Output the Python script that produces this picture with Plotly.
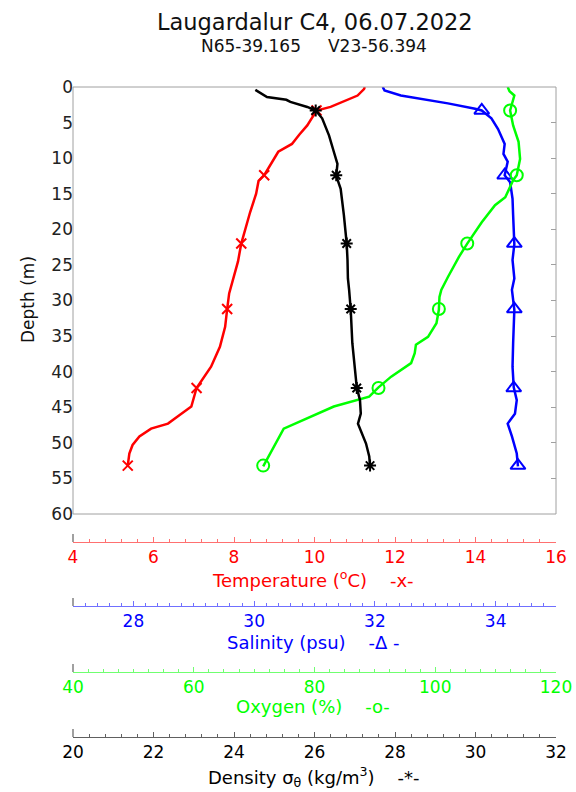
import plotly.graph_objects as go

# ---------------- data ----------------
marker_depth = [3.3, 12.4, 22.0, 31.2, 42.3, 53.2]

temp_depth = [0.0, 0.3, 1.2, 2.0, 2.8, 3.3, 5.4, 6.7, 8.0, 9.1, 10.3, 11.3, 12.4, 13.2,
              15.0, 17.6, 20.0, 22.0, 24.5, 27.1, 29.0, 31.2, 33.7, 36.5, 39.3, 42.3,
              44.9, 46.1, 47.3, 48.0, 49.1, 50.3, 51.5, 53.2]
temp_vals = [11.25, 11.23, 11.07, 10.75, 10.40, 10.05, 9.82, 9.62, 9.44, 9.10, 8.98, 8.88,
             8.75, 8.61, 8.55, 8.40, 8.28, 8.18, 8.10, 7.98, 7.88, 7.83, 7.78, 7.65, 7.43,
             7.07, 6.94, 6.65, 6.36, 5.94, 5.65, 5.48, 5.40, 5.36]
temp_markers = [10.05, 8.75, 8.18, 7.83, 7.07, 5.36]

sal_depth = [0.0, 0.5, 1.2, 2.3, 3.05, 3.3, 4.4, 5.9, 8.0, 9.4, 10.5, 11.7, 12.4, 13.4,
             15.7, 18.0, 22.1, 24.3, 26.9, 28.5, 31.3, 36.0, 39.3, 42.2, 44.0, 45.9,
             47.3, 49.1, 51.5, 53.3]
sal_vals = [32.13, 32.16, 32.43, 33.21, 33.66, 33.77, 33.93, 34.04, 34.15, 34.13, 34.20,
            34.17, 34.15, 34.24, 34.28, 34.29, 34.31, 34.28, 34.31, 34.27, 34.31, 34.29,
            34.28, 34.30, 34.35, 34.32, 34.20, 34.27, 34.35, 34.37]
sal_markers = [33.77, 34.15, 34.31, 34.31, 34.30, 34.37]

oxy_depth = [0.0, 0.6, 1.2, 3.3, 5.4, 7.7, 10.1, 12.4, 13.1, 15.5, 16.6, 19.0, 22.0,
             23.9, 26.7, 28.5, 29.5, 31.3, 33.2, 35.1, 36.2, 37.4, 38.8, 40.7, 42.2,
             43.5, 44.9, 47.0, 48.0, 53.3]
oxy_vals = [112.0, 112.3, 113.1, 112.4, 112.9, 113.8, 114.05, 113.5, 112.9, 111.6, 109.9,
            107.7, 105.3, 103.9, 102.1, 101.0, 100.7, 100.6, 100.2, 98.8, 96.8, 96.6, 96.0,
            92.7, 90.6, 89.05, 83.2, 77.7, 74.9, 71.5]
oxy_markers = [112.4, 113.5, 105.3, 100.6, 90.6, 71.5]

dens_depth = [0.4, 1.1, 1.4, 1.8, 2.1, 2.8, 3.3, 4.4, 6.8, 9.1, 10.8, 12.5, 14.3, 18.0,
              22.0, 24.3, 26.9, 28.5, 31.3, 36.0, 39.8, 42.2, 44.0, 45.9, 47.3, 50.1,
              51.9, 53.3]
dens_vals = [24.53, 24.73, 24.82, 25.30, 25.40, 25.82, 26.03, 26.19, 26.36, 26.48, 26.57,
             26.54, 26.65, 26.73, 26.80, 26.82, 26.83, 26.86, 26.90, 26.94, 27.00, 27.05,
             27.13, 27.15, 27.08, 27.28, 27.36, 27.38]
dens_markers = [26.03, 26.54, 26.80, 26.90, 27.05, 27.38]

depth_ticks = list(range(0, 61, 5))

# ---------------- geometry (page pixels; body margin removed) ----------------
W, H = 576, 792
PL, PR, PT, PB = 73, 556, 87, 737        # plot box left/right/top, lowest axis line
ML, MT = PL, PT
MR = W - PR
MB = H - PB
PH = H - MT - MB
PW = W - ML - MR


def py(Y):
    return (PB - Y) / PH


def px(X):
    return (X - PL) / PW


FONT = "DejaVu Sans, Verdana, sans-serif"
RED, BLUE, GREEN, BLACK = "#ff0000", "#0000ff", "#00ff00", "#000000"
GRAY = "#a0a0a0"

fig = go.Figure()

fig.add_trace(go.Scatter(x=temp_vals, y=temp_depth, xaxis="x", yaxis="y", mode="lines",
                         line=dict(color=RED, width=2.5)))
fig.add_trace(go.Scatter(x=sal_vals, y=sal_depth, xaxis="x2", yaxis="y", mode="lines",
                         line=dict(color=BLUE, width=2.5)))
fig.add_trace(go.Scatter(x=oxy_vals, y=oxy_depth, xaxis="x3", yaxis="y", mode="lines",
                         line=dict(color=GREEN, width=2.5)))
fig.add_trace(go.Scatter(x=dens_vals, y=dens_depth, xaxis="x4", yaxis="y", mode="lines",
                         line=dict(color=BLACK, width=2.5)))

fig.add_trace(go.Scatter(x=temp_markers, y=marker_depth, xaxis="x", yaxis="y", mode="markers",
                         marker=dict(symbol="x-thin-open", size=10, color=RED,
                                     line=dict(color=RED, width=2))))
fig.add_trace(go.Scatter(x=sal_markers, y=marker_depth, xaxis="x2", yaxis="y", mode="markers",
                         marker=dict(symbol="triangle-up-open", size=13, color=BLUE,
                                     line=dict(color=BLUE, width=2))))
fig.add_trace(go.Scatter(x=oxy_markers, y=marker_depth, xaxis="x3", yaxis="y", mode="markers",
                         marker=dict(symbol="circle-open", size=12, color=GREEN,
                                     line=dict(color=GREEN, width=2))))
fig.add_trace(go.Scatter(x=dens_markers, y=marker_depth, xaxis="x4", yaxis="y", mode="markers",
                         marker=dict(symbol="asterisk-open", size=10, color=BLACK,
                                     line=dict(color=BLACK, width=2))))
fig.add_trace(go.Scatter(x=[None], y=[None], xaxis="x", yaxis="y2", mode="markers",
                         hoverinfo="skip", showlegend=False))


def xax(rng, tick0, dtick, mdtick, Y, color, linecolor, overlay=True):
    d = dict(domain=[0, 1], range=rng, anchor="free", position=py(Y), automargin=False,
             tick0=tick0, dtick=dtick, ticks="inside", ticklen=5, tickwidth=1,
             tickcolor=linecolor, showline=True, linecolor=linecolor, linewidth=1,
             showgrid=False, zeroline=False, fixedrange=True,
             tickfont=dict(family=FONT, size=17, color=color),
             minor=dict(dtick=mdtick, tick0=rng[0], ticks="inside", ticklen=3,
                        tickcolor=linecolor, showgrid=False))
    if overlay:
        d["overlaying"] = "x"
    return d


ydom = [py(514), 1]

fig.update_layout(
    width=W, height=H,
    margin=dict(l=ML, r=MR, t=MT, b=MB, autoexpand=False),
    paper_bgcolor="white", plot_bgcolor="white",
    showlegend=False,
    xaxis=xax([4, 16], 4, 2, 0.4, 542, RED, "#ff7070", overlay=False),
    xaxis2=xax([27, 35], 28, 2, 0.2, 606, BLUE, "#7070ff"),
    xaxis3=xax([40, 120], 40, 20, 2.5, 672, GREEN, "#70ff70"),
    xaxis4=xax([20, 32], 20, 2, 0.4, 737, BLACK, "#606060"),
    yaxis=dict(domain=ydom, range=[60, 0], anchor="free", position=0, automargin=False,
               tickmode="array", tickvals=depth_ticks, ticks="", showline=False,
               showgrid=False, zeroline=False, fixedrange=True,
               tickfont=dict(family=FONT, size=17, color="#222222")),
    yaxis2=dict(domain=ydom, range=[60, 0], overlaying="y", anchor="free", position=1,
                automargin=False, side="right", tickmode="array", tickvals=depth_ticks,
                ticks="inside", ticklen=5, tickcolor=GRAY, showticklabels=False,
                showline=False, showgrid=False, zeroline=False, fixedrange=True),
)

shapes = [dict(type="rect", xref="paper", yref="paper", x0=0, x1=1, y0=ydom[0], y1=1,
               line=dict(color=GRAY, width=1))]
for Y in (542, 606, 672, 737):
    shapes.append(dict(type="line", xref="paper", yref="paper", x0=0, x1=0,
                       y0=py(Y), y1=py(Y - 8), line=dict(color="#808080", width=1.5)))
fig.update_layout(shapes=shapes)

sp = "\u00a0"
ann = [
    dict(text="Laugardalur C4, 06.07.2022", x=px(315), y=py(22), size=22.5, color="#111111"),
    dict(text=f"N65-39.165{sp*5}V23-56.394", x=px(314), y=py(46), size=17, color="#111111"),
    dict(text=f"Temperature (<sup>o</sup>C){sp*4}-x-", x=px(313), y=py(579), size=18, color=RED),
    dict(text=f"Salinity (psu){sp*4}-\u0394 -", x=px(313), y=py(642), size=18, color=BLUE),
    dict(text=f"Oxygen (%){sp*4}-o-", x=px(313), y=py(706), size=18, color=GREEN),
    dict(text=f"Density σ<sub>θ</sub> (kg/m<sup>3</sup>){sp*4}-*-", x=px(313), y=py(777),
         size=18, color=BLACK),
]
annotations = []
for a in ann:
    annotations.append(dict(text=a["text"], x=a["x"], y=a["y"], xref="paper", yref="paper",
                            xanchor="center", yanchor="middle", showarrow=False,
                            font=dict(family=FONT, size=a["size"], color=a["color"])))
annotations.append(dict(text="Depth (m)", x=px(28), y=py(300),
                        xref="paper", yref="paper", xanchor="center", yanchor="middle",
                        textangle=-90, showarrow=False,
                        font=dict(family=FONT, size=17, color="#111111")))
fig.update_layout(annotations=annotations)

fig.write_html("out.html", config={"displayModeBar": False},
               post_script="document.body.style.margin='0';"
                           "document.documentElement.style.overflow='hidden';")
